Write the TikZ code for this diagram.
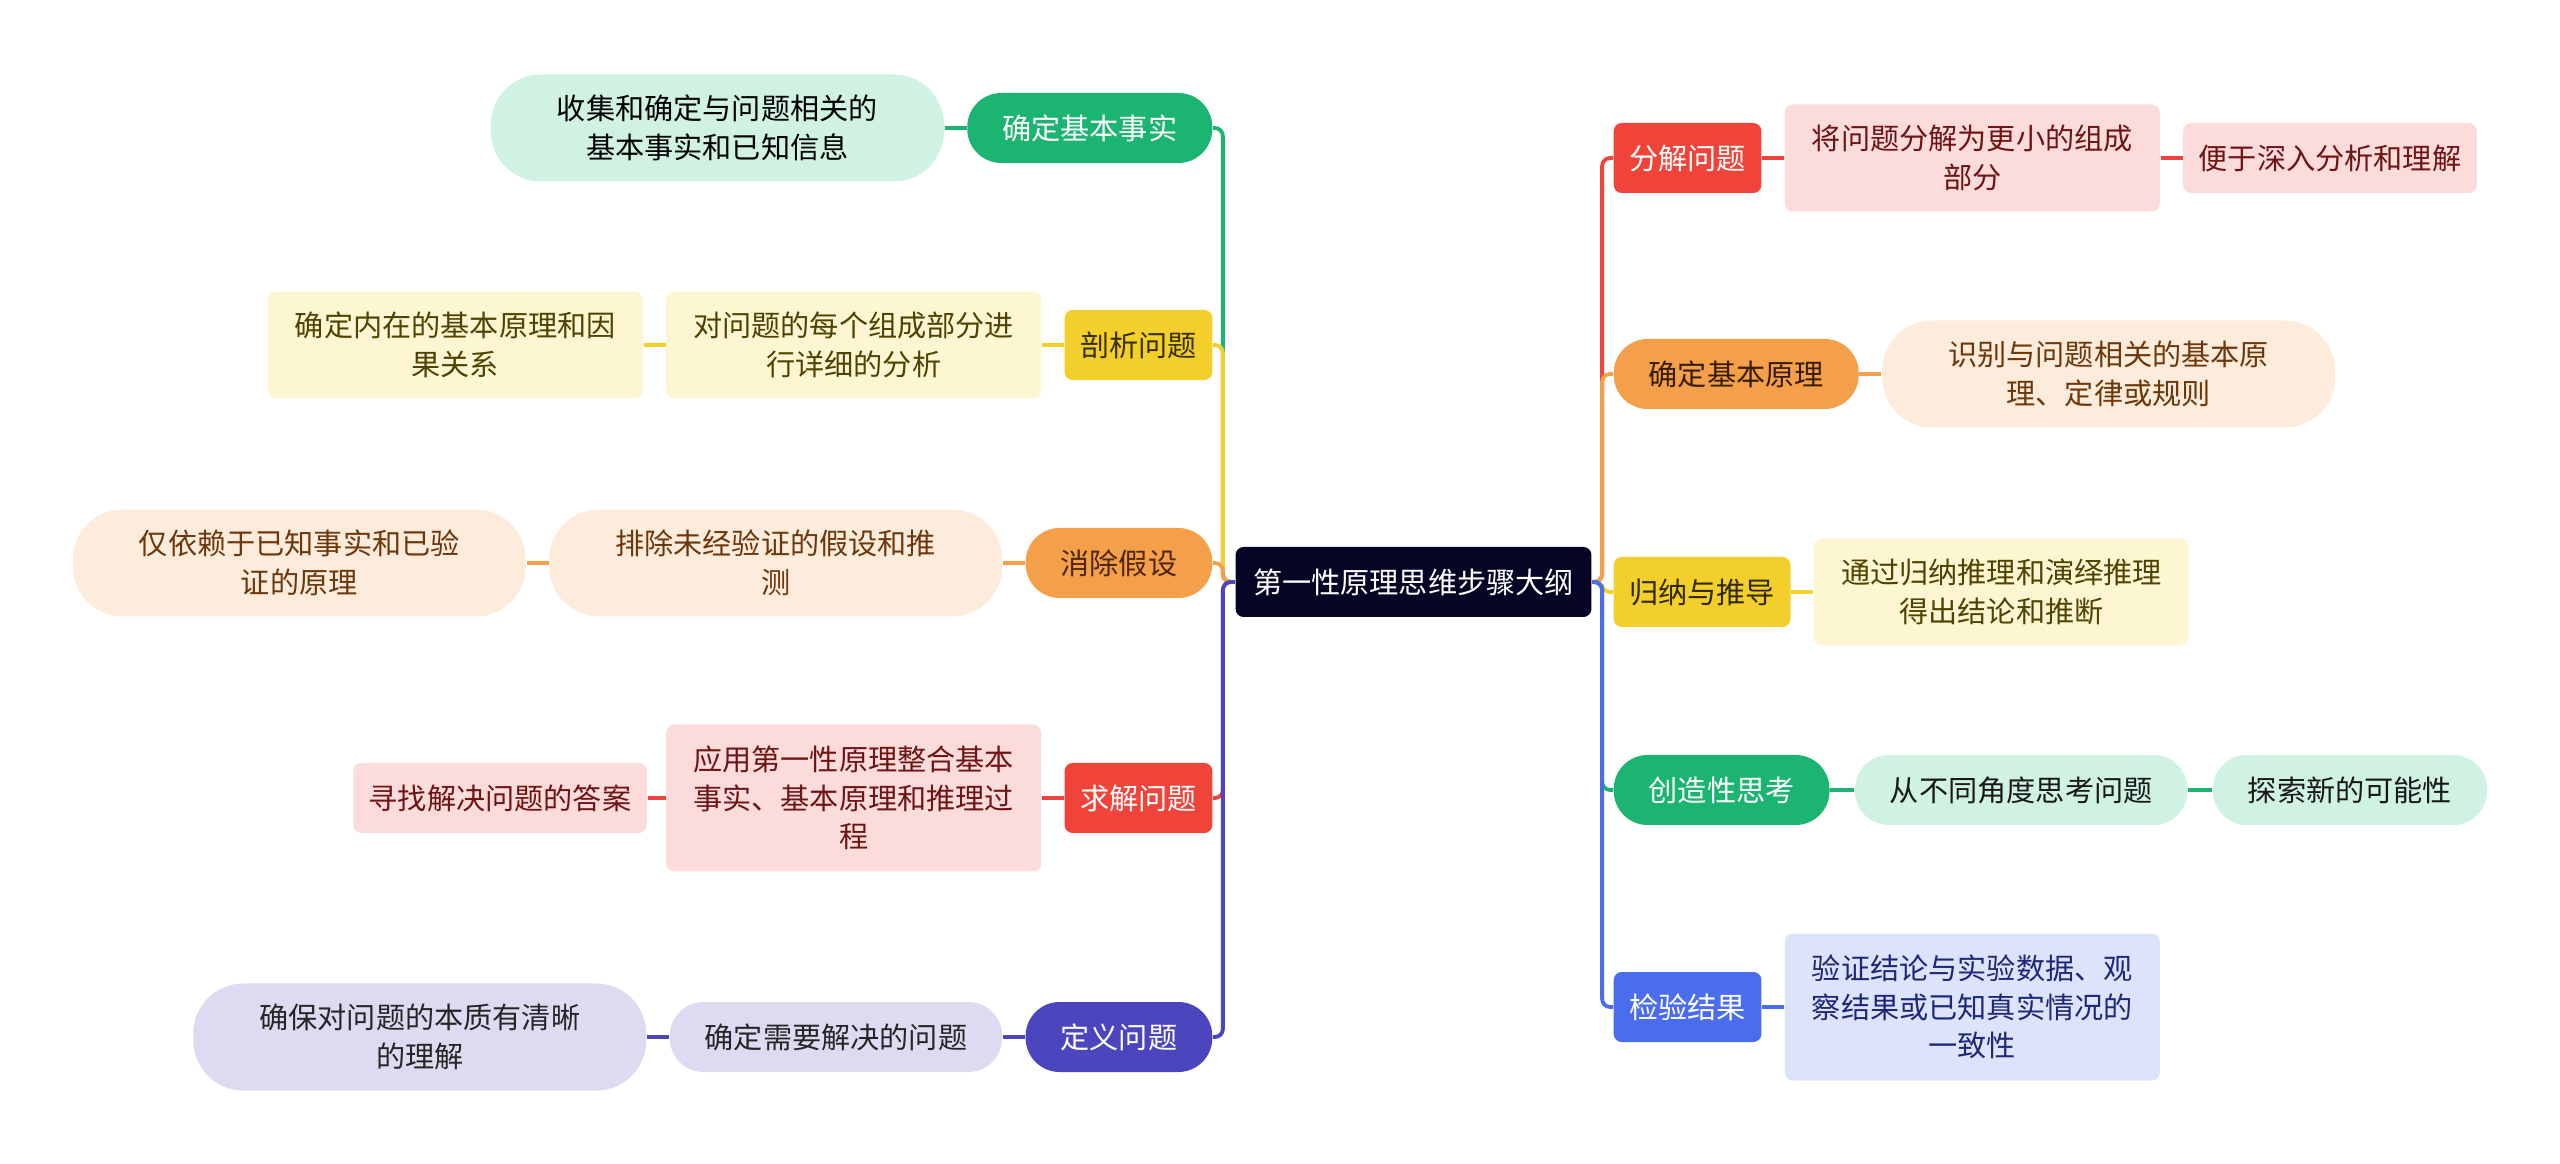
\documentclass[tikz,border=0pt]{standalone}
\usepackage{fontspec}
\setmainfont{Noto Sans CJK SC}
\usetikzlibrary{positioning}

\definecolor{rootc}{RGB}{6,5,38}
\definecolor{greenc}{RGB}{27,180,112}
\definecolor{greenl}{RGB}{207,242,226}
\definecolor{yellowc}{RGB}{242,207,42}
\definecolor{yellowl}{RGB}{253,246,210}
\definecolor{orangec}{RGB}{244,160,74}
\definecolor{orangel}{RGB}{253,236,220}
\definecolor{redc}{RGB}{240,68,58}
\definecolor{redl}{RGB}{252,219,219}
\definecolor{indigoc}{RGB}{76,70,190}
\definecolor{indigol}{RGB}{221,219,242}
\definecolor{bluec}{RGB}{74,108,238}
\definecolor{bluel}{RGB}{220,227,250}
\definecolor{olivet}{RGB}{80,66,0}
\definecolor{brownt}{RGB}{110,55,10}
\definecolor{redt}{RGB}{110,20,20}
\definecolor{navyt}{RGB}{30,40,120}

\tikzset{
  every node/.style={font=\fontsize{8.3}{11}\selectfont, align=center, inner ysep=0pt},
  rootbox/.style={fill=rootc, text=white, rounded corners=0.08cm, minimum height=0.7cm, inner xsep=0.175cm},
  pill/.style={rounded corners=0.34cm, minimum height=0.7cm, inner xsep=0.35cm},
  box/.style={rounded corners=0.08cm, minimum height=0.7cm, inner xsep=0.155cm},
  bigpill/.style={rounded corners=0.5cm, text width=3.5cm, inner xsep=0.515cm, minimum height=1.07cm},
  bigbox/.style={rounded corners=0.08cm, text width=3.5cm, inner xsep=0.125cm, minimum height=1.07cm},
  link/.style={line width=1.1pt, rounded corners=0.08cm},
}

\begin{document}
\begin{tikzpicture}[node distance=0.22cm]
\useasboundingbox (0,0) rectangle (25.6,-11.64);

\node[rootbox] (root) at (14.135,-5.82) {第一性原理思维步骤大纲};

% left branches
\node[pill,fill=greenc,text=white,anchor=east] (fact) at (12.13,-1.28) {确定基本事实};
\node[bigpill,fill=greenl,left=of fact] (fact1) {收集和确定与问题相关的\\基本事实和已知信息};

\node[box,fill=yellowc,text=olivet!70!black,anchor=east] (parse) at (12.13,-3.45) {剖析问题};
\node[bigbox,fill=yellowl,text=olivet,left=of parse] (parse1) {对问题的每个组成部分进\\行详细的分析};
\node[bigbox,fill=yellowl,text=olivet,left=of parse1] (parse2) {确定内在的基本原理和因\\果关系};

\node[pill,fill=orangec,text=brownt!70!black,anchor=east] (assume) at (12.13,-5.63) {消除假设};
\node[bigpill,fill=orangel,text=brownt,left=of assume] (assume1) {排除未经验证的假设和推\\测};
\node[bigpill,fill=orangel,text=brownt,left=of assume1] (assume2) {仅依赖于已知事实和已验\\证的原理};

\node[box,fill=redc,text=white,anchor=east] (solve) at (12.13,-7.98) {求解问题};
\node[bigbox,fill=redl,text=redt,minimum height=1.47cm,left=of solve] (solve1) {应用第一性原理整合基本\\事实、基本原理和推理过\\程};
\node[box,fill=redl,text=redt,left=0.18cm of solve1] (solve2) {寻找解决问题的答案};

\node[pill,fill=indigoc,text=white,anchor=east] (define) at (12.13,-10.37) {定义问题};
\node[pill,fill=indigol,text=black!85,left=of define] (define1) {确定需要解决的问题};
\node[bigpill,fill=indigol,text=black!85,left=of define1] (define2) {确保对问题的本质有清晰\\的理解};

% right branches
\node[box,fill=redc,text=white,anchor=west] (split) at (16.13,-1.58) {分解问题};
\node[bigbox,fill=redl,text=redt,right=of split] (split1) {将问题分解为更小的组成\\部分};
\node[box,fill=redl,text=redt,right=of split1] (split2) {便于深入分析和理解};

\node[pill,fill=orangec,text=brownt!50!black,anchor=west] (basis) at (16.13,-3.74) {确定基本原理};
\node[bigpill,fill=orangel,text=brownt,right=of basis] (basis1) {识别与问题相关的基本原\\理、定律或规则};

\node[box,fill=yellowc,text=olivet!60!black,anchor=west] (infer) at (16.13,-5.92) {归纳与推导};
\node[bigbox,fill=yellowl,text=olivet,right=of infer] (infer1) {通过归纳推理和演绎推理\\得出结论和推断};

\node[pill,fill=greenc,text=white,anchor=west] (create) at (16.13,-7.90) {创造性思考};
\node[pill,fill=greenl,text=black!90,right=0.24cm of create] (create1) {从不同角度思考问题};
\node[pill,fill=greenl,text=black!90,right=0.24cm of create1] (create2) {探索新的可能性};

\node[box,fill=bluec,text=white,anchor=west] (check) at (16.13,-10.07) {检验结果};
\node[bigbox,fill=bluel,text=navyt,minimum height=1.47cm,right=of check] (check1) {验证结论与实验数据、观\\察结果或已知真实情况的\\一致性};

% trunk lines
\draw[link,greenc] (root.west) -- ++(-0.12,0) |- (fact.east);
\draw[link,yellowc] (root.west) -- ++(-0.12,0) |- (parse.east);
\draw[link,orangec] (root.west) -- ++(-0.12,0) |- (assume.east);
\draw[link,redc] (root.west) -- ++(-0.12,0) |- (solve.east);
\draw[link,indigoc] (root.west) -- ++(-0.12,0) |- (define.east);

\draw[link,redc] (root.east) -- ++(0.10,0) |- (split.west);
\draw[link,orangec] (root.east) -- ++(0.10,0) |- (basis.west);
\draw[link,yellowc] (root.east) -- ++(0.10,0) |- (infer.west);
\draw[link,greenc] (root.east) -- ++(0.10,0) |- (create.west);
\draw[link,bluec] (root.east) -- ++(0.10,0) |- (check.west);

% child links
\draw[link,greenc] (fact.west) -- (fact1.east);
\draw[link,yellowc] (parse.west) -- (parse1.east);
\draw[link,yellowc] (parse1.west) -- (parse2.east);
\draw[link,orangec] (assume.west) -- (assume1.east);
\draw[link,orangec] (assume1.west) -- (assume2.east);
\draw[link,redc] (solve.west) -- (solve1.east);
\draw[link,redc] (solve1.west) -- (solve2.east);
\draw[link,indigoc] (define.west) -- (define1.east);
\draw[link,indigoc] (define1.west) -- (define2.east);

\draw[link,redc] (split.east) -- (split1.west);
\draw[link,redc] (split1.east) -- (split2.west);
\draw[link,orangec] (basis.east) -- (basis1.west);
\draw[link,yellowc] (infer.east) -- (infer1.west);
\draw[link,greenc] (create.east) -- (create1.west);
\draw[link,greenc] (create1.east) -- (create2.west);
\draw[link,bluec] (check.east) -- (check1.west);
\end{tikzpicture}
\end{document}
